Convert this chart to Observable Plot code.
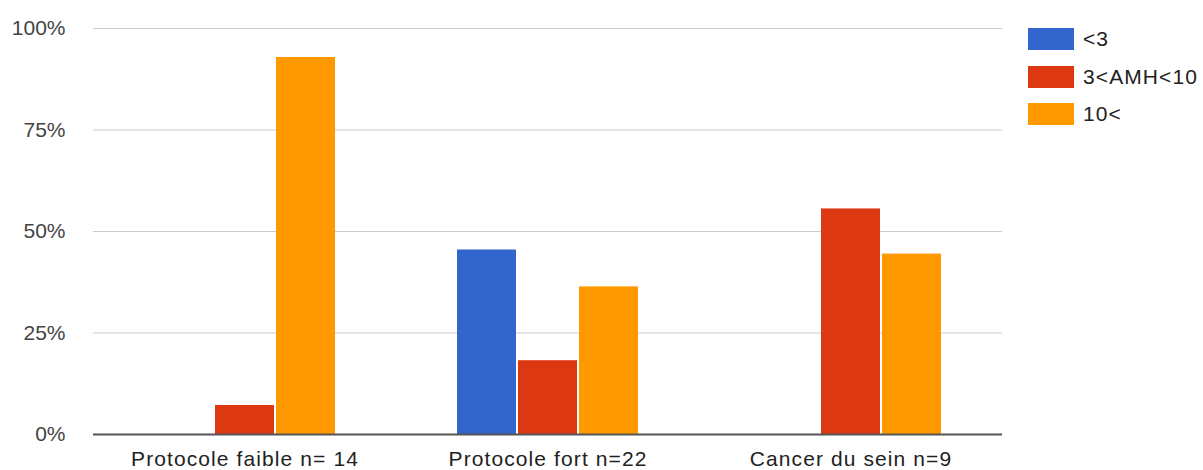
<!DOCTYPE html>
<html>
<head>
<meta charset="utf-8">
<script src="https://cdn.jsdelivr.net/npm/d3@7"></script>
<script src="https://cdn.jsdelivr.net/npm/@observablehq/plot@0.6"></script>
<style>
  html, body { margin: 0; padding: 0; background: #fff; }
  #wrap { position: relative; width: 1203px; height: 470px; font-family: "Liberation Sans", Arial, sans-serif; }
  #legend { position: absolute; left: 1028px; top: 28px; }
  .item { display: flex; align-items: center; height: 22px; margin-bottom: 15.5px; }
  .sw { width: 46px; height: 22px; margin-right: 9px; }
  .lab { font-size: 21px; color: #222; letter-spacing: 1.1px; }
  #chart g[aria-label^="fx-axis"] text { letter-spacing: 1.1px; }
</style>
</head>
<body>
<div id="wrap"><div id="chart"></div><div id="legend"></div></div>
<script>
const categories = ["Protocole faible n= 14", "Protocole fort n=22", "Cancer du sein n=9"];
const series = ["<3", "3<AMH<10", "10<"];
const colors = ["#3366cc", "#dc3912", "#ff9900"];
const valuesLow = [0, 0.4545, 0];          // <3
const valuesMid = [0.0714, 0.1818, 0.5556]; // 3<AMH<10
const valuesHigh = [0.9286, 0.3636, 0.4444]; // 10<
const yTicks = [0, 0.25, 0.5, 0.75, 1];

const seriesValues = [valuesLow, valuesMid, valuesHigh];
const data = [];
categories.forEach((c, i) => series.forEach((s, j) => data.push({cat: c, ser: s, v: seriesValues[j][i]})));

const chart = Plot.plot({
  width: 1203,
  height: 470,
  marginLeft: 92,
  marginRight: 200,
  marginTop: 28,
  marginBottom: 36,
  style: {fontFamily: "'Liberation Sans', Arial, sans-serif", fontSize: "21px", background: "#fff"},
  fx: {domain: categories, padding: 0, label: null},
  x: {domain: series, paddingInner: 0.03, paddingOuter: 0.98, axis: null},
  y: {domain: [0, 1], label: null},
  color: {domain: series, range: colors},
  marks: [
    Plot.ruleY(yTicks, {stroke: "#cccccc", strokeWidth: 1}),
    Plot.barY(data.filter(d => d.v > 0), {fx: "cat", x: "ser", y: "v", fill: "ser"}),
    Plot.ruleY([0], {stroke: "#555", strokeWidth: 2}),
    Plot.axisY({ticks: yTicks, tickFormat: d => Math.round(d * 100) + "%", tickSize: 0, tickPadding: 28, fill: "#444", label: null}),
    Plot.axisFx({anchor: "bottom", tickSize: 0, tickPadding: 17, fill: "#222", label: null})
  ]
});
document.getElementById("chart").appendChild(chart);

const legend = document.getElementById("legend");
series.forEach((s, i) => {
  const it = document.createElement("div");
  it.className = "item";
  const sw = document.createElement("div");
  sw.className = "sw";
  sw.style.background = colors[i];
  const lb = document.createElement("span");
  lb.className = "lab";
  lb.textContent = s;
  it.appendChild(sw); it.appendChild(lb);
  legend.appendChild(it);
});
</script>
</body>
</html>
